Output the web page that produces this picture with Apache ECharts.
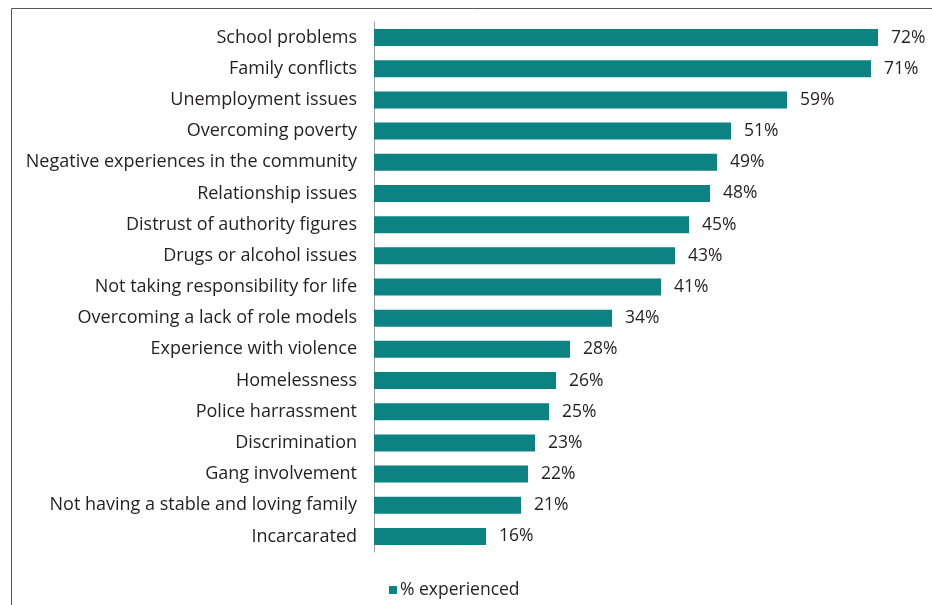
<!DOCTYPE html>
<html><head><meta charset="utf-8">
<script src="https://cdn.jsdelivr.net/npm/echarts@6/dist/echarts.min.js"></script>
<style>html,body{margin:0;padding:0;background:#fff}#c{width:932px;height:605px}</style>
</head><body><div id="c"></div>
<script>
const categories = ["School problems","Family conflicts","Unemployment issues","Overcoming poverty","Negative experiences in the community","Relationship issues","Distrust of authority figures","Drugs or alcohol issues","Not taking responsibility for life","Overcoming a lack of role models","Experience with violence","Homelessness","Police harrassment","Discrimination","Gang involvement","Not having a stable and loving family","Incarcarated"];
const values = [72,71,59,51,49,48,45,43,41,34,28,26,25,23,22,21,16];
const seriesName = "% experienced";
const FONT = "Open Sans";
const chart = echarts.init(document.getElementById('c'));
chart.setOption({
  animation:false,
  graphic:[{type:'rect',shape:{x:11.5,y:8.5,width:960,height:640},style:{fill:'none',stroke:'#555',lineWidth:1}}],
  legend:{data:[seriesName],bottom:1,left:384,icon:'rect',itemWidth:8,itemHeight:8,itemGap:4,
    textStyle:{fontFamily:FONT,fontSize:17.5,color:'#231f20',padding:[0,0,0,-2]}},
  grid:{left:374,top:22,width:553,height:530},
  xAxis:{type:'value',min:0,max:79,show:false},
  yAxis:{type:'category',data:categories,inverse:true,
    axisLine:{show:true,lineStyle:{color:'#a0a0a0',width:1}},axisTick:{show:false},
    axisLabel:{fontFamily:FONT,fontSize:18,color:'#231f20',margin:17}},
  series:[{name:seriesName,type:'bar',data:values,barWidth:17,
    itemStyle:{color:'#0d8282'},
    label:{show:true,position:'right',distance:13,formatter:'{c}%',fontFamily:FONT,fontSize:17.5,color:'#231f20'}}]
});
</script></body></html>
